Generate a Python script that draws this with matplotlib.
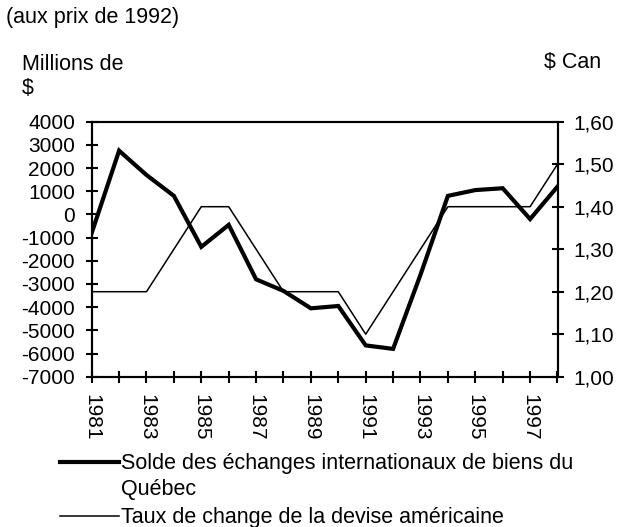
import matplotlib
matplotlib.use("Agg")
import matplotlib.pyplot as plt
from matplotlib.lines import Line2D

plt.rcParams['font.family'] = ['Liberation Sans', 'DejaVu Sans']

years = list(range(1981, 1999))
solde = [-800, 2750, 1700, 800, -1400, -450, -2800, -3300, -4050, -3950,
         -5650, -5800, -2600, 800, 1050, 1130, -200, 1200]
taux = [1.20, 1.20, 1.20, 1.30, 1.40, 1.40, 1.30, 1.20, 1.20, 1.20,
        1.10, 1.20, 1.30, 1.40, 1.40, 1.40, 1.40, 1.50]
left_ticks = list(range(-7000, 4001, 1000))
right_ticks = [1.00, 1.10, 1.20, 1.30, 1.40, 1.50, 1.60]
right_labels = ['1,00', '1,10', '1,20', '1,30', '1,40', '1,50', '1,60']
label_years = list(range(1981, 1998, 2))
other_years = list(range(1982, 1999, 2))

FS_T = 15
FS = 15.5
fig = plt.figure(figsize=(6.18, 5.27), dpi=100)
ax = fig.add_axes([91.7/618, 1-376.7/527, (557.5-91.7)/618, (376.7-121.7)/527])
ax2 = ax.twinx()

ax.plot(years, solde, color='black', lw=3.0, solid_joinstyle='miter', zorder=3)
ax2.plot(years, taux, color='black', lw=1.1, zorder=2)

ax.set_xlim(1981, 1998)
ax.set_ylim(-7000, 4000)
ax2.set_ylim(1.00, 1.60)

ax.set_yticks(left_ticks)
ax.set_yticklabels([str(v) for v in left_ticks])
ax2.set_yticks(right_ticks)
ax2.set_yticklabels(right_labels)
ax.set_xticks(label_years)
ax.set_xticklabels([str(y) for y in label_years], rotation=270, va='top', ha='center')
ax.set_xticks(other_years, minor=True)

for a in (ax, ax2):
    for s in a.spines.values():
        s.set_linewidth(1.5)
ax.tick_params(axis='both', which='both', direction='inout', length=9, width=1.5,
               labelsize=FS_T)
ax.tick_params(axis='y', pad=7.5)
ax.tick_params(axis='x', which='both', pad=8)
ax2.tick_params(axis='y', direction='inout', length=9, width=1.5, labelsize=FS_T, pad=7)

fig.text(6/618, 1-18/527, '(aux prix de 1992)', fontsize=FS, va='center', ha='left')
fig.text(22/618, 1-65/527, 'Millions de', fontsize=FS, va='center', ha='left')
fig.text(22/618, 1-88/527, '$', fontsize=FS, va='center', ha='left')
fig.text(601/618, 1-62/527, '$ Can', fontsize=FS, va='center', ha='right')

# legend
fig.add_artist(Line2D([60/618, 119/618], [1-462/527, 1-462/527], color='black', lw=3.0,
                      transform=fig.transFigure))
fig.add_artist(Line2D([60/618, 119/618], [1-516/527, 1-516/527], color='black', lw=1.1,
                      transform=fig.transFigure))
fig.text(121/618, 1-463/527, 'Solde des échanges internationaux de biens du',
         fontsize=FS, va='center', ha='left')
fig.text(121/618, 1-490/527, 'Québec', fontsize=FS, va='center', ha='left')
fig.text(121/618, 1-517/527, 'Taux de change de la devise américaine',
         fontsize=FS, va='center', ha='left')

fig.savefig('out.png', dpi=100)
